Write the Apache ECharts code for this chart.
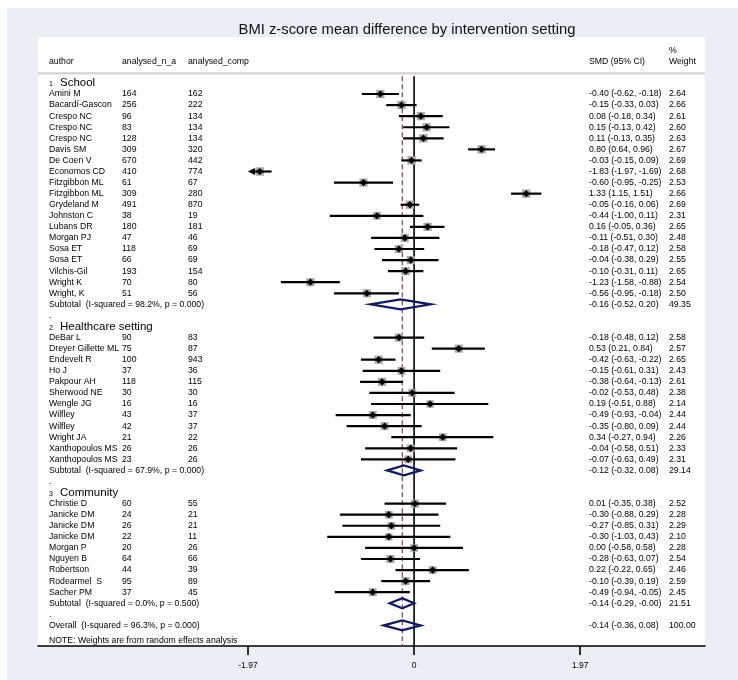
<!DOCTYPE html>
<html>
<head>
<meta charset="utf-8">
<script src="https://cdn.jsdelivr.net/npm/echarts@6/dist/echarts.min.js"></script>
<style>
html,body{margin:0;padding:0;background:#ffffff;}
#bg{position:absolute;left:7px;top:8px;width:731px;height:672px;background:#eaeff5;}
#chart{position:absolute;left:0;top:0;width:738px;height:680px;}
</style>
</head>
<body>
<div id="bg"></div>
<div id="chart"></div>
<script>
// ---------- data ----------
const groupNames = ['School', 'Healthcare setting', 'Community'];

const schoolAuthors = ['Amini M','Bacardí-Gascon','Crespo NC','Crespo NC','Crespo NC','Davis SM','De Coen V','Economos CD','Fitzgibbon ML','Fitzgibbon ML','Grydeland M','Johnston C','Lubans DR','Morgan PJ','Sosa ET','Sosa ET','Vilchis-Gil','Wright K','Wright, K'];
const schoolNA     = [164,256,96,83,128,309,670,410,61,309,491,38,180,47,118,66,193,70,51];
const schoolNComp  = [162,222,134,134,134,320,442,774,67,280,870,19,181,46,69,69,154,80,56];
const schoolSMD    = [-0.40,-0.15,0.08,0.15,0.11,0.80,-0.03,-1.83,-0.60,1.33,-0.05,-0.44,0.16,-0.11,-0.18,-0.04,-0.10,-1.23,-0.56];
const schoolLo     = [-0.62,-0.33,-0.18,-0.13,-0.13,0.64,-0.15,-1.97,-0.95,1.15,-0.16,-1.00,-0.05,-0.51,-0.47,-0.38,-0.31,-1.58,-0.95];
const schoolHi     = [-0.18,0.03,0.34,0.42,0.35,0.96,0.09,-1.69,-0.25,1.51,0.06,0.11,0.36,0.30,0.12,0.29,0.11,-0.88,-0.18];
const schoolW      = [2.64,2.66,2.61,2.60,2.63,2.67,2.69,2.68,2.53,2.66,2.69,2.31,2.65,2.48,2.58,2.55,2.65,2.54,2.50];

const healthAuthors = ['DeBar L','Dreyer Gillette ML','Endevelt R','Ho J','Pakpour AH','Sherwood NE','Wengle JG','Wilfley','Wilfley','Wright JA','Xanthopoulos MS','Xanthopoulos MS'];
const healthNA     = [90,75,100,37,118,30,16,43,42,21,26,23];
const healthNComp  = [83,87,943,36,115,30,16,37,37,22,26,26];
const healthSMD    = [-0.18,0.53,-0.42,-0.15,-0.38,-0.02,0.19,-0.49,-0.35,0.34,-0.04,-0.07];
const healthLo     = [-0.48,0.21,-0.63,-0.61,-0.64,-0.53,-0.51,-0.93,-0.80,-0.27,-0.58,-0.63];
const healthHi     = [0.12,0.84,-0.22,0.31,-0.13,0.48,0.88,-0.04,0.09,0.94,0.51,0.49];
const healthW      = [2.58,2.57,2.65,2.43,2.61,2.38,2.14,2.44,2.44,2.26,2.33,2.31];

const commAuthors = ['Christie D','Janicke DM','Janicke DM','Janicke DM','Morgan P','Nguyen B','Robertson','Rodearmel  S','Sacher PM'];
const commNA      = [60,24,26,22,20,64,44,95,37];
const commNComp   = [55,21,21,11,26,66,39,89,45];
const commSMD     = [0.01,-0.30,-0.27,-0.30,0.00,-0.28,0.22,-0.10,-0.49];
const commLo      = [-0.35,-0.88,-0.85,-1.03,-0.58,-0.63,-0.22,-0.39,-0.94];
const commHi      = [0.38,0.29,0.31,0.43,0.58,0.07,0.65,0.19,-0.05];
const commW       = [2.52,2.28,2.29,2.10,2.28,2.54,2.46,2.59,2.45];

// subtotals
const subSMD   = [-0.16, -0.12, -0.14];
const subLo    = [-0.52, -0.32, -0.29];
const subHi    = [0.20, 0.08, -0];
const subW     = [49.35, 29.14, 21.51];
const subI2    = ['98.2%', '67.9%', '0.0%'];
const subP     = ['0.000', '0.000', '0.500'];

const overallSMD = -0.14, overallLo = -0.36, overallHi = 0.08, overallW = 100.00;
const overallI2 = '96.3%', overallP = '0.000';

const tickValues = [-1.97, 0, 1.97];
const plotLimit = 1.97;
const titleText = 'BMI z-score mean difference by intervention setting';
const noteText = 'NOTE: Weights are from random effects analysis';

// ---------- build rows ----------
const groups = [
  {a: schoolAuthors, n: schoolNA, c: schoolNComp, s: schoolSMD, lo: schoolLo, hi: schoolHi, w: schoolW},
  {a: healthAuthors, n: healthNA, c: healthNComp, s: healthSMD, lo: healthLo, hi: healthHi, w: healthW},
  {a: commAuthors, n: commNA, c: commNComp, s: commSMD, lo: commLo, hi: commHi, w: commW}
];
const rows = [];
let slot = -1;
groups.forEach((g, gi) => {
  rows.push({type: 'header', slot: slot++, num: String(gi + 1), name: groupNames[gi]});
  g.a.forEach((au, i) => {
    rows.push({type: 'study', slot: slot++, author: au, n: g.n[i], c: g.c[i], s: g.s[i], lo: g.lo[i], hi: g.hi[i], w: g.w[i]});
  });
  rows.push({type: 'sub', slot: slot++, label: 'Subtotal  (I-squared = ' + subI2[gi] + ', p = ' + subP[gi] + ')', s: subSMD[gi], lo: subLo[gi], hi: subHi[gi], w: subW[gi]});
  rows.push({type: 'dot', slot: slot++});
});
rows.push({type: 'sub', slot: slot++, label: 'Overall  (I-squared = ' + overallI2 + ', p = ' + overallP + ')', s: overallSMD, lo: overallLo, hi: overallHi, w: overallW});
rows.push({type: 'note', slot: slot + 0.35});

function f2(v) {
  if (Object.is(v, -0) || (v < 0 && Math.abs(v) < 0.005)) return '-0.00';
  return v.toFixed(2);
}
function ciText(r) { return f2(r.s) + ' (' + f2(r.lo) + ', ' + f2(r.hi) + ')'; }

// ---------- layout constants (pixels) ----------
const COL = {author: 49, n: 122, c: 188, smd: 589, w: 669};
const FONT = 'Liberation Sans, Arial, Helvetica, sans-serif';
const FS = 8.7;
const TXT = '#000';

const chart = echarts.init(document.getElementById('chart'), null, {renderer: 'canvas'});

function txt(x, y, s, size, extra) {
  return {type: 'text', x: x, y: y, silent: true,
    style: Object.assign({text: s, fill: TXT, font: size + 'px ' + FONT, textAlign: 'left', textVerticalAlign: 'middle'}, extra || {})};
}

function renderItem(params, api) {
  const r = rows[api.value(0)];
  const y = api.coord([0, r.slot])[1];
  const ch = [];
  if (r.type === 'header') {
    ch.push(txt(COL.author, y + 1.5, r.num, 7));
    ch.push(txt(COL.author + 11, y, r.name, 11.5));
  } else if (r.type === 'dot') {
    ch.push(txt(COL.author, y, '.', FS));
  } else if (r.type === 'note') {
    ch.push(txt(COL.author, y, noteText, FS));
  } else if (r.type === 'study') {
    ch.push(txt(COL.author, y, r.author, FS));
    ch.push(txt(COL.n, y, String(r.n), FS));
    ch.push(txt(COL.c, y, String(r.c), FS));
    ch.push(txt(COL.smd, y, ciText(r), FS));
    ch.push(txt(COL.w, y, r.w.toFixed(2), FS));
    const xs = api.coord([r.s, r.slot])[0];
    const clipped = r.lo <= -plotLimit;
    const xl = api.coord([Math.max(r.lo, -plotLimit), r.slot])[0];
    const xh = api.coord([Math.min(r.hi, plotLimit), r.slot])[0];
    const side = 5.1 * Math.sqrt(r.w);
    ch.push({type: 'rect', shape: {x: xs - side / 2, y: y - side / 2, width: side, height: side},
      style: {fill: '#a8a8a8'}, z2: 1});
    ch.push({type: 'line', shape: {x1: clipped ? xl + 5 : xl, y1: y, x2: xh, y2: y},
      style: {stroke: '#000', lineWidth: 2.2}, z2: 2});
    if (clipped) {
      ch.push({type: 'polygon', shape: {points: [[xl, y], [xl + 7, y - 3.5], [xl + 7, y + 3.5]]},
        style: {fill: '#000'}, z2: 3});
    }
    ch.push({type: 'polygon', shape: {points: [[xs - 3.6, y], [xs, y - 3.6], [xs + 3.6, y], [xs, y + 3.6]]},
      style: {fill: '#000'}, z2: 3});
  } else if (r.type === 'sub') {
    ch.push(txt(COL.author, y, r.label, FS));
    ch.push(txt(COL.smd, y, ciText(r), FS));
    ch.push(txt(COL.w, y, r.w.toFixed(2), FS));
    const xs = api.coord([r.s, r.slot])[0];
    const xl = api.coord([r.lo, r.slot])[0];
    const xh = api.coord([r.hi, r.slot])[0];
    ch.push({type: 'polygon', shape: {points: [[xl, y], [xs, y - 5], [xh, y], [xs, y + 5]]},
      style: {fill: null, stroke: '#0d1b6e', lineWidth: 2.2}, z2: 4});
  }
  return {type: 'group', children: ch};
}

// vertical reference lines (zero and overall estimate)
function renderRefLines(params, api) {
  const yTop = api.coord([0, -1.6])[1];
  const yBot = params.coordSys.y + params.coordSys.height;
  const x0 = api.coord([0, 0])[0];
  const xo = api.coord([overallSMD, 0])[0];
  return {type: 'group', children: [
    {type: 'line', shape: {x1: x0, y1: yTop, x2: x0, y2: yBot}, style: {stroke: '#000', lineWidth: 1.6}},
    {type: 'line', shape: {x1: xo, y1: yTop, x2: xo, y2: yBot}, style: {stroke: '#8e3a3a', lineWidth: 1.2, lineDash: [5, 3]}}
  ]};
}

const option = {
  animation: false,
  backgroundColor: 'transparent',
  grid: {left: 38, right: 33, top: 37, bottom: 34, show: true, backgroundColor: '#ffffff', borderWidth: 0},
  xAxis: {
    type: 'value', min: -4.46, max: 3.45,
    splitLine: {show: false},
    axisLine: {show: true, onZero: false, lineStyle: {color: '#000', width: 1.6}},
    axisTick: {show: true, customValues: tickValues, length: 9, lineStyle: {color: '#000', width: 1.6}},
    axisLabel: {show: true, customValues: tickValues, margin: 15, color: '#000', fontSize: 8.5, fontFamily: FONT,
      formatter: v => (v === 0 ? '0' : v.toFixed(2))}
  },
  yAxis: {type: 'value', inverse: true, min: -5.15, max: 49.86, show: false},
  graphic: [
    {type: 'text', x: 407, y: 30, silent: true,
      style: {text: titleText, fill: '#111', font: '14.8px ' + FONT, textAlign: 'center', textVerticalAlign: 'middle'}},
    {type: 'text', x: COL.author, y: 62, silent: true, style: {text: 'author', fill: TXT, font: FS + 'px ' + FONT, textVerticalAlign: 'middle'}},
    {type: 'text', x: COL.n, y: 62, silent: true, style: {text: 'analysed_n_a', fill: TXT, font: FS + 'px ' + FONT, textVerticalAlign: 'middle'}},
    {type: 'text', x: COL.c, y: 62, silent: true, style: {text: 'analysed_comp', fill: TXT, font: FS + 'px ' + FONT, textVerticalAlign: 'middle'}},
    {type: 'text', x: COL.smd, y: 62, silent: true, style: {text: 'SMD (95% CI)', fill: TXT, font: FS + 'px ' + FONT, textVerticalAlign: 'middle'}},
    {type: 'text', x: COL.w, y: 51, silent: true, style: {text: '%', fill: TXT, font: FS + 'px ' + FONT, textVerticalAlign: 'middle'}},
    {type: 'text', x: COL.w, y: 62, silent: true, style: {text: 'Weight', fill: TXT, font: FS + 'px ' + FONT, textVerticalAlign: 'middle'}},
    {type: 'line', silent: true, shape: {x1: 38, y1: 74, x2: 705, y2: 74}, style: {stroke: '#d8d8d8', lineWidth: 1}},
    {type: 'line', silent: true, shape: {x1: 38, y1: 73, x2: 705, y2: 73}, style: {stroke: '#b8b8b8', lineWidth: 1}}
  ],
  series: [
    {type: 'custom', renderItem: renderRefLines, data: [[0]], silent: true, z: 1, clip: false},
    {type: 'custom', renderItem: renderItem, data: rows.map((r, i) => [i]), silent: true, z: 2, clip: false}
  ]
};
chart.setOption(option);
</script>
</body>
</html>
